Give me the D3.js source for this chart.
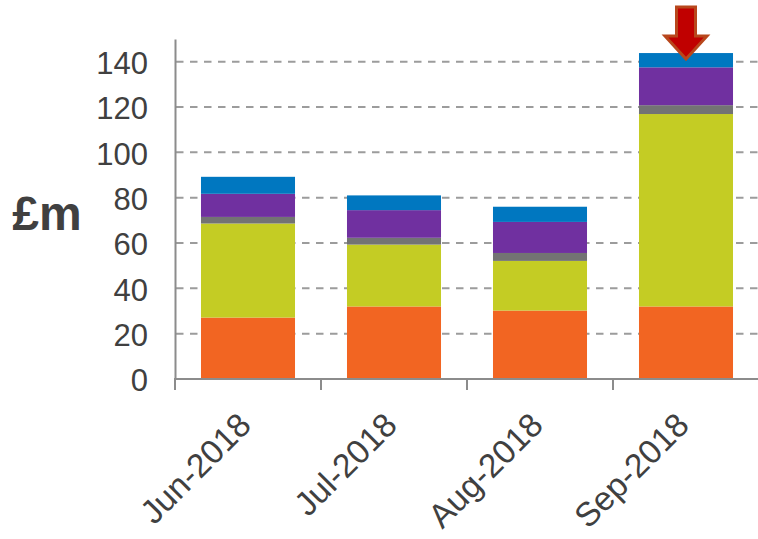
<!DOCTYPE html>
<html>
<head>
<meta charset="utf-8">
<script src="https://cdn.jsdelivr.net/npm/d3@7"></script>
<style>
  body { margin: 0; background: #fff; }
  svg text { font-family: "Liberation Sans", Arial, sans-serif; fill: #404040; }
</style>
</head>
<body>
<div class="chart"></div>
<script>
const width = 758;
const height = 539;

// values (£m)
const months = ['Jun-2018', 'Jul-2018', 'Aug-2018', 'Sep-2018'];
const orange = [27.1, 32.0, 30.2, 32.0];
const green = [41.5, 27.3, 21.9, 84.9];
const grey = [2.9, 3.0, 3.5, 3.9];
const purple = [10.2, 12.2, 13.7, 16.7];
const blue = [7.5, 6.5, 6.7, 6.3];
const yTicks = [0, 20, 40, 60, 80, 100, 120, 140];

const keys = ['orange', 'green', 'grey', 'purple', 'blue'];
const colors = {
  orange: '#F26522',
  green: '#C4CC24',
  grey: '#737373',
  purple: '#7030A0',
  blue: '#0077C0'
};

const rows = months.map((m, i) => ({
  month: m,
  orange: orange[i],
  green: green[i],
  grey: grey[i],
  purple: purple[i],
  blue: blue[i]
}));

const svg = d3.select('.chart').append('svg')
  .attr('width', width)
  .attr('height', height)

const x = d3.scaleBand()
  .domain(months)
  .range([175, 759])
  .paddingInner(0.356)
  .paddingOuter(0.178)

const y = d3.scaleLinear()
  .domain([0, 150])
  .range([379, 39])

// dashed gridlines
svg.append('g')
  .selectAll('line')
  .data(yTicks.filter(d => d > 0))
  .enter()
  .append('line')
  .attr('x1', 176)
  .attr('x2', width)
  .attr('y1', d => y(d))
  .attr('y2', d => y(d))
  .attr('stroke', '#9c9c9c')
  .attr('stroke-width', 2)
  .attr('stroke-dasharray', '7.5,6.5')

const stacked = d3.stack().keys(keys)(rows);

svg.append('g')
  .selectAll('g')
  .data(stacked)
  .enter()
  .append('g')
  .attr('fill', d => colors[d.key])
  .selectAll('rect')
  .data(d => d)
  .enter()
  .append('rect')
  .attr('x', d => x(d.data.month))
  .attr('width', x.bandwidth())
  .attr('y', d => y(d[1]))
  .attr('height', d => y(d[0]) - y(d[1]))

// y axis
const yAxis = svg.append('g')
  .attr('transform', 'translate(175,0)')
  .call(d3.axisLeft(y).tickValues(yTicks).tickSize(0).tickPadding(27))
yAxis.select('.domain').attr('stroke', '#8c8c8c').attr('stroke-width', 2)
yAxis.selectAll('text')
  .attr('font-size', 31)
  .attr('dy', '0.38em')
  .style('fill', '#404040')

// x axis
const xAxisG = svg.append('g')
  .attr('transform', 'translate(0,379)')
xAxisG.append('line')
  .attr('x1', 174)
  .attr('x2', width)
  .attr('stroke', '#8c8c8c')
  .attr('stroke-width', 2)
xAxisG.selectAll('.tick')
  .data(months.concat(['end']))
  .enter()
  .append('line')
  .attr('x1', (d, i) => i < months.length ? x(d) - x.step() * x.paddingOuter() : x.range()[1])
  .attr('x2', (d, i) => i < months.length ? x(d) - x.step() * x.paddingOuter() : x.range()[1])
  .attr('y1', 0)
  .attr('y2', 11)
  .attr('stroke', '#8c8c8c')
  .attr('stroke-width', 2)

xAxisG.selectAll('text')
  .data(months)
  .enter()
  .append('text')
  .attr('transform', d => `translate(${x(d) + x.bandwidth() / 2 + 5},48) rotate(-45)`)
  .attr('text-anchor', 'end')
  .attr('font-size', 33.5)
  .text(d => d)

// "£m" label
svg.append('text')
  .attr('x', 47)
  .attr('y', 230)
  .attr('text-anchor', 'middle')
  .attr('font-size', 48)
  .attr('font-weight', 'bold')
  .text('£m')

// red arrow pointing at the Sep-2018 total
const last = rows[rows.length - 1];
const lastTotal = keys.reduce((s, k) => s + last[k], 0);
const tipX = x(last.month) + x.bandwidth() / 2;
const tipY = y(lastTotal) + 6;
const arrow = d3.path();
arrow.moveTo(tipX, tipY);
arrow.lineTo(tipX - 21, tipY - 23);
arrow.lineTo(tipX - 9.5, tipY - 23);
arrow.lineTo(tipX - 9.5, tipY - 52);
arrow.lineTo(tipX + 9.5, tipY - 52);
arrow.lineTo(tipX + 9.5, tipY - 23);
arrow.lineTo(tipX + 21, tipY - 23);
arrow.closePath();
svg.append('path')
  .attr('d', arrow.toString())
  .attr('fill', '#C00000')
  .attr('stroke', '#B8471C')
  .attr('stroke-width', 3)
  .attr('stroke-linejoin', 'miter')
</script>
</body>
</html>
